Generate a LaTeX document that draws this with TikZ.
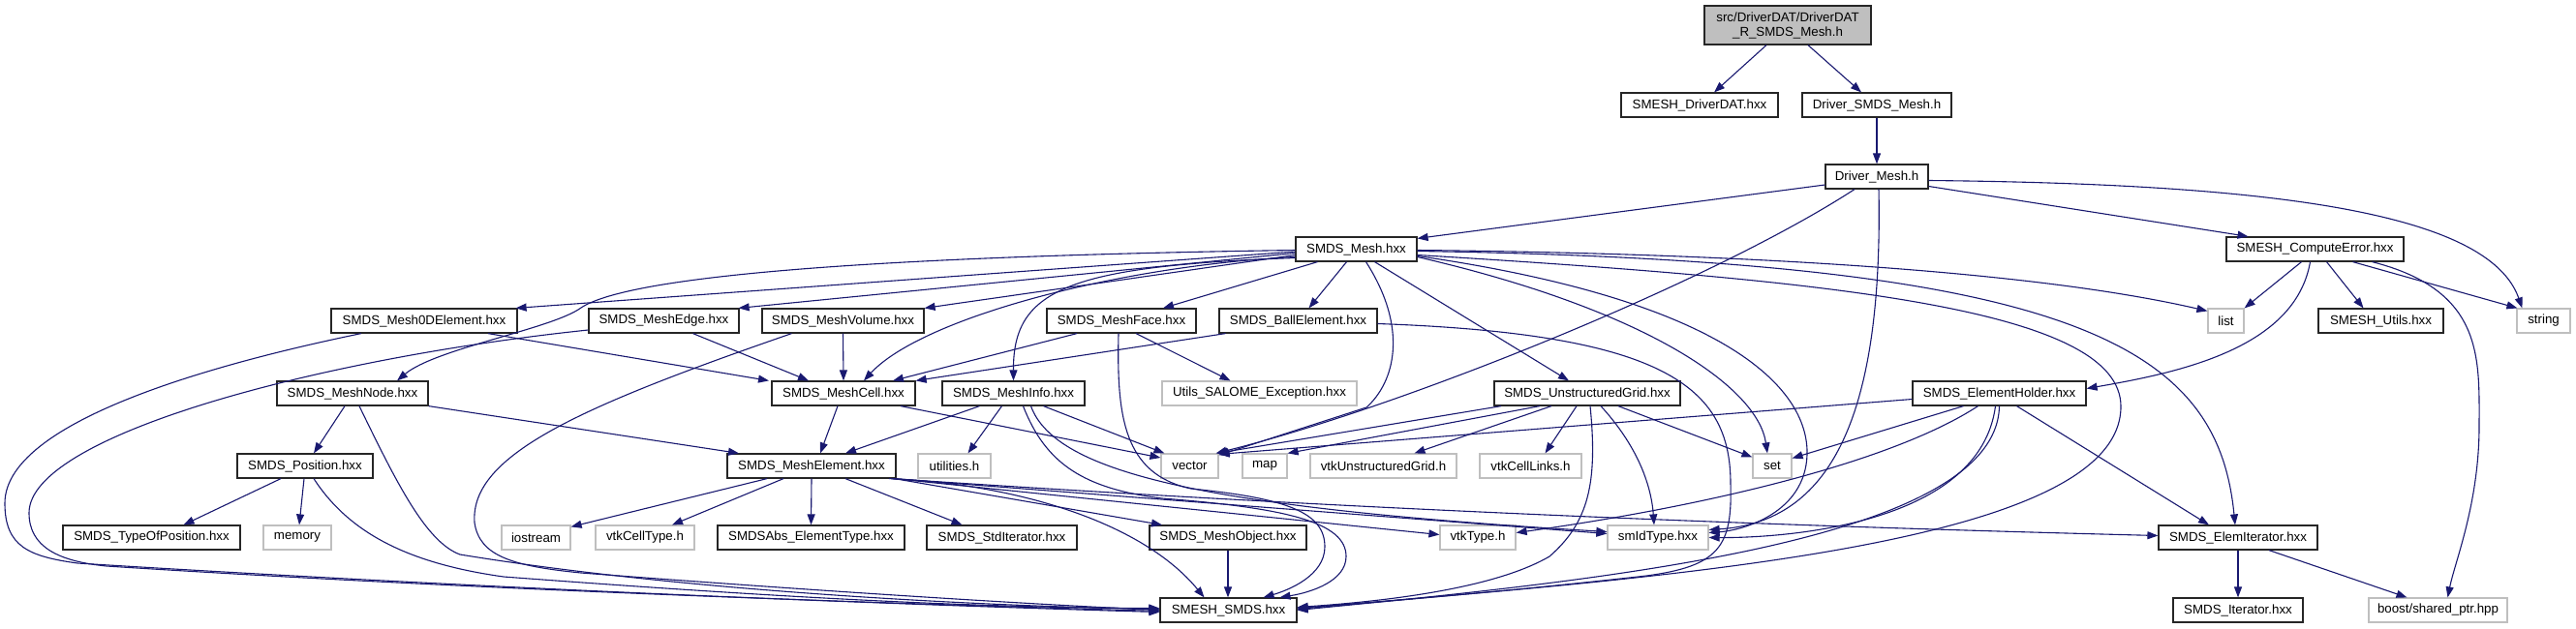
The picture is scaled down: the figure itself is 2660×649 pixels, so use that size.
\documentclass[tikz,border=0pt]{standalone}
\usepackage{fontspec}
\setmainfont{Liberation Sans}
\usetikzlibrary{arrows.meta}
\definecolor{edgec}{HTML}{191970}
\definecolor{greyb}{HTML}{BFBFBF}
\begin{document}
\begin{tikzpicture}[x=1pt,y=-1pt,font=\fontsize{13.3pt}{15pt}\selectfont,
  nd/.style={draw=black!85,line width=1.2pt,minimum height=25pt,inner sep=0pt,fill=white},
  gr/.style={nd,draw=greyb},
  rt/.style={nd,fill=greyb,minimum height=40pt,align=center},
  e/.style={draw=edgec,line width=1.1pt,-{Triangle[length=11pt,width=8pt]}}]
\fill[white] (0,0) rectangle (2660,649);
\useasboundingbox (0,0) rectangle (2660,649);
% nodes
\node[rt,minimum width=172pt] (root) at (1846,26) {src/DriverDAT/DriverDAT\\\_R\_SMDS\_Mesh.h};
\node[nd,minimum width=162pt] (drvdat) at (1755,108.5) {SMESH\_DriverDAT.hxx};
\node[nd,minimum width=154pt] (drvsmds) at (1938,108.5) {Driver\_SMDS\_Mesh.h};
\node[nd,minimum width=106pt] (drvmesh) at (1938,182.5) {Driver\_Mesh.h};
\node[nd,minimum width=125pt] (smdsmesh) at (1400.5,257.5) {SMDS\_Mesh.hxx};
\node[nd,minimum width=183pt] (comperr) at (2390.5,257.5) {SMESH\_ComputeError.hxx};
\node[nd,minimum width=192pt] (m0d) at (438,331.5) {SMDS\_Mesh0DElement.hxx};
\node[nd,minimum width=155pt] (medge) at (685.5,331.5) {SMDS\_MeshEdge.hxx};
\node[nd,minimum width=167pt] (mvol) at (870.5,331.5) {SMDS\_MeshVolume.hxx};
\node[nd,minimum width=154pt] (mface) at (1158,331.5) {SMDS\_MeshFace.hxx};
\node[nd,minimum width=163pt] (ball) at (1340.5,331.5) {SMDS\_BallElement.hxx};
\node[gr,minimum width=37pt] (list) at (2298.5,331.5) {list};
\node[nd,minimum width=129pt] (utils) at (2458.5,331.5) {SMESH\_Utils.hxx};
\node[gr,minimum width=55pt] (string) at (2626.5,331.5) {string};
\node[nd,minimum width=156pt] (mnode) at (364,406.5) {SMDS\_MeshNode.hxx};
\node[nd,minimum width=148pt] (mcell) at (871,406.5) {SMDS\_MeshCell.hxx};
\node[nd,minimum width=147pt] (minfo) at (1046.5,406.5) {SMDS\_MeshInfo.hxx};
\node[gr,minimum width=201pt] (salome) at (1300.5,406.5) {Utils\_SALOME\_Exception.hxx};
\node[nd,minimum width=192pt] (ugrid) at (1639,406.5) {SMDS\_UnstructuredGrid.hxx};
\node[nd,minimum width=179pt] (eholder) at (2064.5,406.5) {SMDS\_ElementHolder.hxx};
\node[nd,minimum width=140pt] (pos) at (315,481.5) {SMDS\_Position.hxx};
\node[nd,minimum width=174pt] (melem) at (838,481.5) {SMDS\_MeshElement.hxx};
\node[gr,minimum width=75pt] (utilh) at (985.5,481.5) {utilities.h};
\node[gr,minimum width=59pt] (vector) at (1228.5,481.5) {vector};
\node[gr,minimum width=46pt] (map) at (1306,481.5) {map};
\node[gr,minimum width=151pt] (vtkug) at (1428.5,481.5) {vtkUnstructuredGrid.h};
\node[gr,minimum width=105pt] (vtkcl) at (1580.5,481.5) {vtkCellLinks.h};
\node[gr,minimum width=40pt] (set) at (1830,481.5) {set};
\node[nd,minimum width=183pt] (typos) at (156.5,555.5) {SMDS\_TypeOfPosition.hxx};
\node[gr,minimum width=70pt] (memory) at (307,555.5) {memory};
\node[gr,minimum width=71pt] (iostream) at (553.5,555.5) {iostream};
\node[gr,minimum width=102pt] (vtkct) at (666,555.5) {vtkCellType.h};
\node[nd,minimum width=193pt] (abstype) at (837.5,555.5) {SMDSAbs\_ElementType.hxx};
\node[nd,minimum width=155pt] (stditer) at (1034.5,555.5) {SMDS\_StdIterator.hxx};
\node[nd,minimum width=162pt] (mobj) at (1268,555.5) {SMDS\_MeshObject.hxx};
\node[gr,minimum width=78pt] (vtktype) at (1526,555.5) {vtkType.h};
\node[gr,minimum width=104pt] (smid) at (1712,555.5) {smIdType.hxx};
\node[nd,minimum width=164pt] (elemit) at (2311,555.5) {SMDS\_ElemIterator.hxx};
\node[nd,minimum width=141pt] (smesh) at (1268.5,630.5) {SMESH\_SMDS.hxx};
\node[nd,minimum width=134pt] (iter) at (2311,630.5) {SMDS\_Iterator.hxx};
\node[gr,minimum width=143pt] (boost) at (2517.5,630.5) {boost/shared\_ptr.hpp};
% root and drivers
\draw[e] ([xshift=-22pt]root.south) -- ([xshift=15pt]drvdat.north);
\draw[e] ([xshift=21pt]root.south) -- ([xshift=-16pt]drvsmds.north);
\draw[e] (drvsmds.south) -- (drvmesh.north);
\draw[e] ([yshift=-8.5pt]drvmesh.west) -- ([yshift=-2pt]smdsmesh.north east);
\draw[e] ([yshift=-10pt]drvmesh.east) -- ([xshift=-69pt]comperr.north);
\draw[e] ([yshift=-4pt]drvmesh.east) .. controls (2350,190) and (2570,220) .. ([xshift=6pt]string.north west);
\draw[e] ([xshift=-23pt]drvmesh.south) .. controls (1770,290) and (1450,420) .. ([xshift=-3pt]vector.north east);
\draw[e] ([xshift=2pt]drvmesh.south) .. controls (1945,450) and (1880,540) .. ([yshift=8pt]smid.east);
% SMDS_Mesh
\draw[e] ([yshift=-2.5pt]smdsmesh.west) -- ([xshift=-2pt]m0d.north east);
\draw[e] ([yshift=-4pt]smdsmesh.west) -- ([xshift=-1pt]medge.north east);
\draw[e] ([yshift=-6pt]smdsmesh.west) -- (mvol.north east);
\draw[e] ([yshift=-1pt]smdsmesh.west) .. controls (900,265) and (650,285) .. (600,318) .. controls (570,340) and (450,360) .. ([xshift=46pt]mnode.north);
\draw[e] ([yshift=-8pt]smdsmesh.west) .. controls (1150,275) and (950,330) .. ([xshift=21pt]mcell.north);
\draw[e] ([yshift=-9pt]smdsmesh.west) .. controls (1100,275) and (1046,300) .. (minfo.north);
\draw[e] ([xshift=-40pt]smdsmesh.south) -- ([xshift=43pt]mface.north);
\draw[e] ([xshift=-10pt]smdsmesh.south) -- ([xshift=11pt]ball.north);
\draw[e] ([xshift=10pt]smdsmesh.south) .. controls (1455,340) and (1440,395) .. (1411,421) -- ([yshift=-2pt]vector.north east);
\draw[e] ([xshift=19pt]smdsmesh.south) -- ([xshift=-19pt]ugrid.north);
\draw[e] ([yshift=-1pt]smdsmesh.east) .. controls (1800,262) and (2100,280) .. ([yshift=-3pt]list.north west);
\draw[e] ([yshift=-2pt]smdsmesh.east) .. controls (2150,270) and (2290,360) .. ([xshift=-3pt]elemit.north);
\draw[e] ([yshift=-6pt]smdsmesh.east) .. controls (1900,290) and (2190,320) .. (2190,420) .. controls (2190,560) and (1750,595) .. ([yshift=2pt]smesh.east);
\draw[e] ([yshift=-8pt]smdsmesh.east) .. controls (1700,320) and (1815,400) .. ([xshift=-5pt]set.north);
\draw[e] ([yshift=-7pt]smdsmesh.east) .. controls (1780,310) and (1868,400) .. (1866,470) .. controls (1864,530) and (1800,548) .. ([yshift=5pt]smid.east);
% ComputeError
\draw[e] ([xshift=-14pt]comperr.south) -- (list.north east);
\draw[e] ([xshift=12pt]comperr.south) -- ([xshift=-18pt]utils.north);
\draw[e] ([xshift=39pt]comperr.south) -- ([xshift=1pt]string.north west);
\draw[e] ([xshift=-5pt]comperr.south) .. controls (2370,360) and (2250,385) .. ([yshift=5pt]eholder.east);
\draw[e] ([xshift=59pt]comperr.south) .. controls (2565,300) and (2560,370) .. (2560,440) .. controls (2560,520) and (2535,580) .. ([xshift=10pt]boost.north);
% row 4 nodes
\draw[e] ([xshift=66pt]m0d.south) -- ([xshift=-77pt]mcell.north);
\draw[e] ([xshift=-65pt]m0d.south) .. controls (250,370) and (5,430) .. (5,520) .. controls (5,565) and (30,575) .. (80,582) .. controls (500,608) and (900,624) .. ([yshift=-2pt]smesh.west);
\draw[e] ([xshift=30pt]medge.south) -- ([xshift=-36pt]mcell.north);
\draw[e] ([yshift=-9.5pt]medge.west) .. controls (330,370) and (30,450) .. (30,530) .. controls (30,565) and (60,580) .. (110,585) .. controls (500,610) and (900,623) .. ([yshift=-1pt]smesh.west);
\draw[e] (mvol.south) -- (mcell.north);
\draw[e] ([xshift=-53pt]mvol.south) .. controls (600,420) and (485,470) .. (490,540) .. controls (495,575) and (530,585) .. (600,592) .. controls (900,615) and (1100,626) .. (smesh.west);
\draw[e] ([xshift=-46pt]mface.south) -- ([xshift=51pt]mcell.north);
\draw[e] ([xshift=15pt]mface.south) -- ([xshift=-30pt]salome.north);
\draw[e] ([xshift=-3pt]mface.south) .. controls (1153,430) and (1160,490) .. (1230,505) .. controls (1330,515) and (1368,530) .. (1368,565) .. controls (1368,595) and (1330,610) .. ([xshift=36pt]smesh.north);
\draw[e] ([xshift=-75pt]ball.south) -- (mcell.north east);
\draw[e] ([yshift=-3pt]ball.east) .. controls (1720,345) and (1787,400) .. (1787,500) .. controls (1789,565) and (1775,585) .. (1700,595) .. controls (1550,612) and (1420,622) .. ([yshift=1pt]smesh.east);
% row 5 nodes
\draw[e] ([xshift=-8pt]mnode.south) -- ([xshift=9pt]pos.north);
\draw[e] (mnode.south east) -- ([xshift=-75pt]melem.north);
\draw[e] ([xshift=7pt]mnode.south) .. controls (410,500) and (440,560) .. (475,573) .. controls (700,610) and (1000,626) .. ([yshift=1pt]smesh.west);
\draw[e] ([xshift=-6pt]mcell.south) -- ([xshift=9pt]melem.north);
\draw[e] ([xshift=59pt]mcell.south) -- ([yshift=8.5pt]vector.west);
\draw[e] ([xshift=-35pt]minfo.south) -- ([xshift=35pt]melem.north);
\draw[e] ([xshift=-12pt]minfo.south) -- ([xshift=14pt]utilh.north);
\draw[e] ([xshift=31pt]minfo.south) -- ([xshift=4pt]vector.north west);
\draw[e] ([xshift=18pt]minfo.south) .. controls (1090,490) and (1250,525) .. ([yshift=6pt]smid.west);
\draw[e] ([xshift=10pt]minfo.south) .. controls (1080,480) and (1120,505) .. (1200,515) .. controls (1330,525) and (1390,540) .. (1390,575) .. controls (1390,600) and (1355,612) .. ([xshift=53pt]smesh.north);
\draw[e] ([xshift=-89pt]ugrid.south) -- ([xshift=-2pt]vector.north east);
\draw[e] ([xshift=-49pt]ugrid.south) -- (map.north east);
\draw[e] ([xshift=-37pt]ugrid.south) -- ([xshift=32pt]vtkug.north);
\draw[e] ([xshift=-11pt]ugrid.south) -- ([xshift=15pt]vtkcl.north);
\draw[e] ([xshift=3pt]ugrid.south) .. controls (1650,500) and (1640,540) .. (1600,575) .. controls (1540,610) and (1420,622) .. ([yshift=3pt]smesh.east);
\draw[e] ([xshift=14pt]ugrid.south) .. controls (1690,460) and (1705,500) .. ([xshift=-4pt]smid.north);
\draw[e] ([xshift=32pt]ugrid.south) -- ([yshift=9pt]set.west);
\draw[e] ([yshift=-6pt]eholder.west) -- ([yshift=-1pt]vector.north east);
\draw[e] ([xshift=-37pt]eholder.south) -- ([yshift=8pt]set.east);
\draw[e] ([xshift=-22pt]eholder.south) .. controls (1950,480) and (1750,525) .. ([yshift=5pt]vtktype.east);
\draw[e] ([xshift=-4pt]eholder.south) .. controls (2045,540) and (1850,556) .. (smid.east);
\draw[e] (eholder.south) .. controls (2062,560) and (1650,600) .. (smesh.east);
\draw[e] ([xshift=18pt]eholder.south) -- ([xshift=-30pt]elemit.north);
% row 6 nodes
\draw[e] ([xshift=-25pt]pos.south) -- ([xshift=33pt]typos.north);
\draw[e] ([xshift=-1pt]pos.south) -- ([xshift=2pt]memory.north);
\draw[e] ([xshift=9pt]pos.south) .. controls (360,550) and (420,582) .. (520,596) .. controls (800,617) and (1000,628) .. ([yshift=2pt]smesh.west);
\draw[e] ([xshift=-46pt]melem.south) -- ([yshift=-2pt]iostream.north east);
\draw[e] ([xshift=-29pt]melem.south) -- ([xshift=28pt]vtkct.north);
\draw[e] (melem.south) -- (abstype.north);
\draw[e] ([xshift=35pt]melem.south) -- ([xshift=-41pt]stditer.north);
\draw[e] ([xshift=80pt]melem.south) .. controls (1050,500) and (1180,540) .. ([xshift=-25pt]smesh.north);
\draw[e] ([xshift=-2pt]melem.south east) -- ([xshift=-68pt]mobj.north);
\draw[e] ([xshift=-3pt]melem.south east) -- ([yshift=3pt]vtktype.west);
\draw[e] ([xshift=-4pt]melem.south east) -- ([yshift=4pt]smid.west);
\draw[e] ([xshift=-5pt]melem.south east) .. controls (1300,520) and (1700,540) .. ([yshift=2pt]elemit.west);
% row 7 nodes
\draw[e] (mobj.south) -- ([xshift=-0.5pt]smesh.north);
\draw[e] (elemit.south) -- (iter.north);
\draw[e] ([xshift=32pt]elemit.south) -- ([xshift=-32pt]boost.north);
\end{tikzpicture}
\end{document}
